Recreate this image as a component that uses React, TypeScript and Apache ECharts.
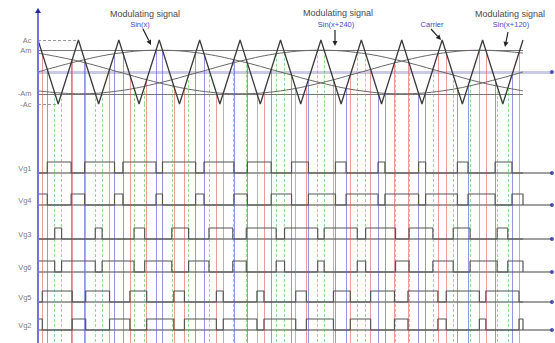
import React, { useEffect, useRef } from "react";
import * as echarts from "echarts";

// ---------- data ----------
// modulating signals (in units of the carrier amplitude Ac), sampled every 30 degrees
const ANGLES = [0, 30, 60, 90, 120, 150, 180, 210, 240, 270, 300, 330, 360];
const MOD_SIN_X = [0, 0.34, 0.59, 0.68, 0.59, 0.34, 0, -0.34, -0.59, -0.68, -0.59, -0.34, 0];
const MOD_SIN_X240 = [-0.59, -0.68, -0.59, -0.34, 0, 0.34, 0.59, 0.68, 0.59, 0.34, 0, -0.34, -0.59];
const MOD_SIN_X120 = [0.59, 0.34, 0, -0.34, -0.59, -0.68, -0.59, -0.34, 0, 0.34, 0.59, 0.68, 0.59];

// triangular carrier: peak / trough positions (degrees) and levels
const CARRIER_X = [0, 15, 30, 45, 60, 75, 90, 105, 120, 135, 150, 165, 180, 195, 210, 225, 240, 255, 270, 285, 300, 315, 330, 345, 360];
const CARRIER_Y = [1, -1, 1, -1, 1, -1, 1, -1, 1, -1, 1, -1, 1, -1, 1, -1, 1, -1, 1, -1, 1, -1, 1, -1, 1];

// reference levels
const LEVEL_LABELS = ["Ac", "Am", "-Am", "-Ac"];
const LEVEL_VALUES = [1, 0.68, -0.68, -1];

// switching instants (degrees) where each modulating signal meets the carrier
const CROSS_A = [6.9, 24.6, 34.6, 56.8, 63.0, 87.6, 92.4, 117.0, 123.2, 145.4, 155.4, 173.1, 188.2, 200.7, 220.8, 228.7, 252.4, 257.5, 282.5, 287.7, 311.3, 319.2, 339.3, 351.8];
const CROSS_B = [12.4, 17.5, 42.5, 47.6, 71.3, 79.2, 99.3, 111.8, 126.9, 144.6, 154.6, 176.8, 183.0, 207.6, 212.4, 237.0, 243.2, 265.4, 275.4, 293.1, 308.2, 320.7, 340.8, 348.7];
const CROSS_C = [3.2, 25.4, 35.4, 53.1, 68.2, 80.7, 100.8, 108.7, 132.4, 137.5, 162.5, 167.7, 191.3, 199.2, 219.3, 231.8, 246.9, 264.6, 274.6, 296.8, 303.0, 327.6, 332.4, 357.0];

// gate signals
const ROWS = ["Vg1", "Vg4", "Vg3", "Vg6", "Vg5", "Vg2"];
const ROW_PHASE = ["A", "A", "B", "B", "C", "C"];
const ROW_INVERTED = [false, true, false, true, false, true];

// ---------- layout ----------
const W = 555;
const H = 343;
const LEFT = 38;
const X_MAX = 381.5;
const G1_CENTER = 72;
const G1_UNIT = 32; // px per Ac
const G1_RANGE = 2;
const G2_TOP = 104;
const G2_H = H - G2_TOP;
const G2_UNIT = 11;
const Y2_MAX = G2_H / G2_UNIT;
const ROW_BASE_PX = [173, 205, 239, 272, 302, 330];
const FONT = "Liberation Sans";

const PHASE_CROSS: Record<string, number[]> = { A: CROSS_A, B: CROSS_B, C: CROSS_C };
const PHASE_COLOR: Record<string, string> = { A: "#5050d8", B: "#4cc44c", C: "#e25858" };
const PHASE_DASH: Record<string, any> = { A: "solid", B: [3, 2], C: "solid" };

function carrierAt(x: number): number {
  for (let i = 0; i < CARRIER_X.length - 1; i++) {
    if (x >= CARRIER_X[i] && x <= CARRIER_X[i + 1]) {
      const t = (x - CARRIER_X[i]) / (CARRIER_X[i + 1] - CARRIER_X[i]);
      return CARRIER_Y[i] + (CARRIER_Y[i + 1] - CARRIER_Y[i]) * t;
    }
  }
  return 0;
}

function gateWave(cross: number[], inverted: boolean, base: number): number[][] {
  const edges = inverted ? [0, ...cross, 360] : cross;
  const pts: number[][] = [[0, base]];
  for (let i = 0; i + 1 < edges.length; i += 2) {
    const a = edges[i];
    const b = edges[i + 1];
    pts.push([a, base], [a, base + 1], [b, base + 1], [b, base]);
  }
  pts.push([360, base]);
  return pts;
}

function arrow(x1: number, y1: number, x2: number, y2: number) {
  const dx = x2 - x1;
  const dy = y2 - y1;
  const len = Math.sqrt(dx * dx + dy * dy);
  const ux = dx / len;
  const uy = dy / len;
  const bx = x2 - ux * 5;
  const by = y2 - uy * 5;
  return [
    { type: "line", z: 100, shape: { x1, y1, x2: bx, y2: by }, style: { stroke: "#222", lineWidth: 1.2 } },
    {
      type: "polygon",
      z: 100,
      shape: { points: [[x2, y2], [bx - uy * 2.5, by + ux * 2.5], [bx + uy * 2.5, by - ux * 2.5]] },
      style: { fill: "#222" },
    },
  ];
}

function buildOption() {
  const series: any[] = [];
  const rowBase = ROW_BASE_PX.map((p) => (H - p) / G2_UNIT);

  // ---- grid 0: modulation section ----
  series.push({
    type: "lines", coordinateSystem: "cartesian2d", xAxisIndex: 0, yAxisIndex: 0, z: 1, silent: true,
    lineStyle: { color: "#cacae4", width: 3, opacity: 1 },
    data: [{ coords: [[0, 0], [X_MAX, 0]] }],
  });
  series.push({
    type: "lines", coordinateSystem: "cartesian2d", xAxisIndex: 0, yAxisIndex: 0, z: 2, silent: true,
    lineStyle: { color: "#777", width: 1, opacity: 1 },
    data: [
      { coords: [[0, LEVEL_VALUES[1]], [360, LEVEL_VALUES[1]]] },
      { coords: [[0, LEVEL_VALUES[2]], [360, LEVEL_VALUES[2]]] },
    ],
  });
  series.push({
    type: "lines", coordinateSystem: "cartesian2d", xAxisIndex: 0, yAxisIndex: 0, z: 2, silent: true,
    lineStyle: { color: "#999", width: 1, type: [3, 2], opacity: 1 },
    data: [
      { coords: [[0, LEVEL_VALUES[0]], [CARRIER_X[2], LEVEL_VALUES[0]]] },
      { coords: [[0, LEVEL_VALUES[3]], [CARRIER_X[1], LEVEL_VALUES[3]]] },
    ],
  });
  ["A", "B", "C"].forEach((ph) => {
    series.push({
      type: "lines", coordinateSystem: "cartesian2d", xAxisIndex: 0, yAxisIndex: 0, z: 3, silent: true,
      lineStyle: { color: PHASE_COLOR[ph], width: 1, opacity: 0.6, type: PHASE_DASH[ph] },
      data: PHASE_CROSS[ph].map((x) => ({ coords: [[x, carrierAt(x)], [x, -1]] })),
    });
  });
  [MOD_SIN_X, MOD_SIN_X240, MOD_SIN_X120].forEach((vals) => {
    series.push({
      type: "line", xAxisIndex: 0, yAxisIndex: 0, z: 4, silent: true, symbol: "none", smooth: 0.4,
      lineStyle: { color: "#666", width: 1 },
      data: ANGLES.map((a, i) => [a, vals[i]]),
    });
  });
  series.push({
    type: "line", xAxisIndex: 0, yAxisIndex: 0, z: 5, silent: true, symbol: "none",
    lineStyle: { color: "#3a3a3a", width: 1.3 },
    data: CARRIER_X.map((x, i) => [x, CARRIER_Y[i]]),
  });
  series.push({
    type: "scatter", xAxisIndex: 0, yAxisIndex: 0, z: 6, silent: true, symbolSize: 1,
    itemStyle: { color: "rgba(0,0,0,0)" },
    label: {
      show: true, position: "left", distance: 6, fontSize: 7.5, color: "#555", fontFamily: FONT,
      formatter: (p: any) => LEVEL_LABELS[p.dataIndex],
    },
    data: LEVEL_VALUES.map((v) => [0, v]),
  });
  series.push({
    type: "scatter", xAxisIndex: 0, yAxisIndex: 0, z: 6, silent: true, symbolSize: 4,
    itemStyle: { color: "#2a2aa0" },
    data: [[X_MAX, 0]],
  });

  // ---- grid 1: gate signals ----
  series.push({
    type: "lines", coordinateSystem: "cartesian2d", xAxisIndex: 1, yAxisIndex: 1, z: 1, silent: true,
    lineStyle: { color: "#a0a0a0", width: 2, opacity: 1 },
    data: rowBase.map((b) => ({ coords: [[0, b], [X_MAX, b]] })),
  });
  ["A", "B", "C"].forEach((ph) => {
    series.push({
      type: "lines", coordinateSystem: "cartesian2d", xAxisIndex: 1, yAxisIndex: 1, z: 3, silent: true,
      lineStyle: { color: PHASE_COLOR[ph], width: 1, opacity: 0.6, type: PHASE_DASH[ph] },
      data: PHASE_CROSS[ph].map((x) => ({ coords: [[x, Y2_MAX], [x, 0]] })),
    });
  });
  ROWS.forEach((name, r) => {
    series.push({
      type: "line", name, xAxisIndex: 1, yAxisIndex: 1, z: 5, silent: true, symbol: "none",
      lineStyle: { color: "#555", width: 1.2 },
      data: gateWave(PHASE_CROSS[ROW_PHASE[r]], ROW_INVERTED[r], rowBase[r]),
    });
  });
  series.push({
    type: "scatter", xAxisIndex: 1, yAxisIndex: 1, z: 6, silent: true, symbolSize: 1,
    itemStyle: { color: "rgba(0,0,0,0)" },
    label: {
      show: true, position: "left", distance: 6, fontSize: 7.5, color: "#555", fontFamily: FONT,
      formatter: (p: any) => ROWS[p.dataIndex],
    },
    data: rowBase.map((b) => [0, b + 0.45]),
  });
  series.push({
    type: "scatter", xAxisIndex: 1, yAxisIndex: 1, z: 6, silent: true, symbolSize: 4,
    itemStyle: { color: "#2a2aa0" },
    data: rowBase.map((b) => [X_MAX, b]),
  });

  const gray = { fontSize: 9, fill: "#4a4a4a", fontFamily: FONT, align: "center", verticalAlign: "middle" };
  const blue = { fontSize: 7.5, fill: "#4848cc", fontFamily: FONT, align: "center", verticalAlign: "middle" };

  const graphic: any[] = [
    { type: "line", z: 99, shape: { x1: LEFT, y1: 12, x2: LEFT, y2: H }, style: { stroke: "#7474dc", lineWidth: 2 } },
    { type: "polygon", z: 99, shape: { points: [[LEFT, 8], [LEFT - 3, 13], [LEFT + 3, 13]] }, style: { fill: "#2a2aa0" } },
    { type: "text", z: 100, x: 145, y: 14, style: { ...gray, text: "Modulating signal" } },
    { type: "text", z: 100, x: 140, y: 24, style: { ...blue, text: "Sin(x)" } },
    ...arrow(143, 29, 151, 45),
    { type: "text", z: 100, x: 338, y: 13, style: { ...gray, text: "Modulating signal" } },
    { type: "text", z: 100, x: 336, y: 24, style: { ...blue, text: "Sin(x+240)" } },
    ...arrow(335, 30, 335, 46),
    { type: "text", z: 100, x: 432, y: 24, style: { ...blue, text: "Carrier" } },
    ...arrow(431, 29, 441, 40),
    { type: "text", z: 100, x: 510, y: 14, style: { ...gray, text: "Modulating signal" } },
    { type: "text", z: 100, x: 511, y: 24, style: { ...blue, text: "Sin(x+120)" } },
    ...arrow(508, 32, 505, 47),
  ];

  const right = W - LEFT - (X_MAX / 360) * 485;

  return {
    animation: false,
    backgroundColor: "#ffffff",
    grid: [
      { left: LEFT, right, top: G1_CENTER - G1_UNIT * G1_RANGE, height: G1_UNIT * G1_RANGE * 2 },
      { left: LEFT, right, top: G2_TOP, height: G2_H },
    ],
    xAxis: [
      { type: "value", gridIndex: 0, min: 0, max: X_MAX, show: false },
      { type: "value", gridIndex: 1, min: 0, max: X_MAX, show: false },
    ],
    yAxis: [
      { type: "value", gridIndex: 0, min: -G1_RANGE, max: G1_RANGE, show: false },
      { type: "value", gridIndex: 1, min: 0, max: Y2_MAX, show: false },
    ],
    graphic,
    series,
  };
}

export default function App() {
  const ref = useRef<HTMLDivElement>(null);
  useEffect(() => {
    const chart = echarts.init(ref.current!, null, { renderer: "svg" });
    chart.setOption(buildOption() as any);
    return () => chart.dispose();
  }, []);
  return (
    <div
      ref={ref}
      style={{ position: "fixed", left: 0, top: 0, width: W, height: H, background: "#fff" }}
    />
  );
}
